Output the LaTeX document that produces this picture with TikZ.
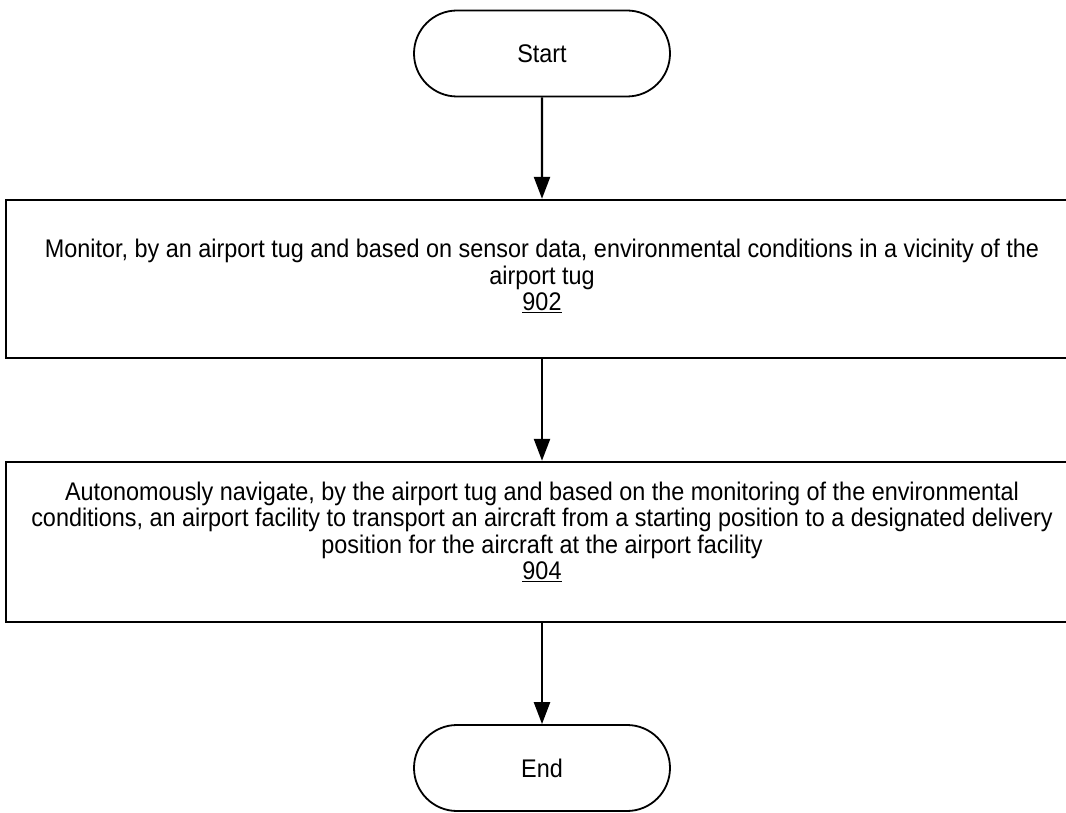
\documentclass[tikz,border=0pt]{standalone}
\usepackage{fontspec}
\setmainfont{Liberation Sans}[FakeStretch=0.918]
\usetikzlibrary{shapes.misc,arrows.meta}

\begin{document}
\begin{tikzpicture}[x=1pt,y=1pt,
  terminal/.style={draw, line width=1.8pt, shape=rounded rectangle,
    minimum width=256pt, minimum height=86pt, inner sep=0pt,
    font=\fontsize{25.5}{26.3}\selectfont},
  stepbox/.style={draw, line width=2.4pt, rectangle, minimum width=1072pt,
    inner sep=0pt},
  steptext/.style={anchor=north, inner sep=0pt, align=center,
    font=\fontsize{25.5}{26.3}\selectfont},
  flow/.style={line width=2.4pt, -{Triangle[length=22pt,width=16pt]}}
]
\useasboundingbox (0,0) rectangle (1066,812);

\node[terminal] (start) at (542,758.5) {Start};

\node[stepbox, minimum height=158pt] (s902) at (542,533) {};
\node[steptext] (t902) at ([yshift=-40.5pt]s902.north)
  {Monitor, by an airport tug and based on sensor data, environmental conditions in a vicinity of the\\
   airport tug\\ \underline{902}};

\node[stepbox, minimum height=160pt] (s904) at (542,270) {};
\node[steptext] (t904) at ([yshift=-21pt]s904.north)
  {Autonomously navigate, by the airport tug and based on the monitoring of the environmental\\
   conditions, an airport facility to transport an aircraft from a starting position to a designated delivery\\
   position for the aircraft at the airport facility\\ \underline{904}};

\node[terminal] (end) at (542,44) {End};

\draw[flow] (start) -- (s902);
\draw[flow] (s902) -- (s904);
\draw[flow] (s904) -- (end);
\end{tikzpicture}
\end{document}
